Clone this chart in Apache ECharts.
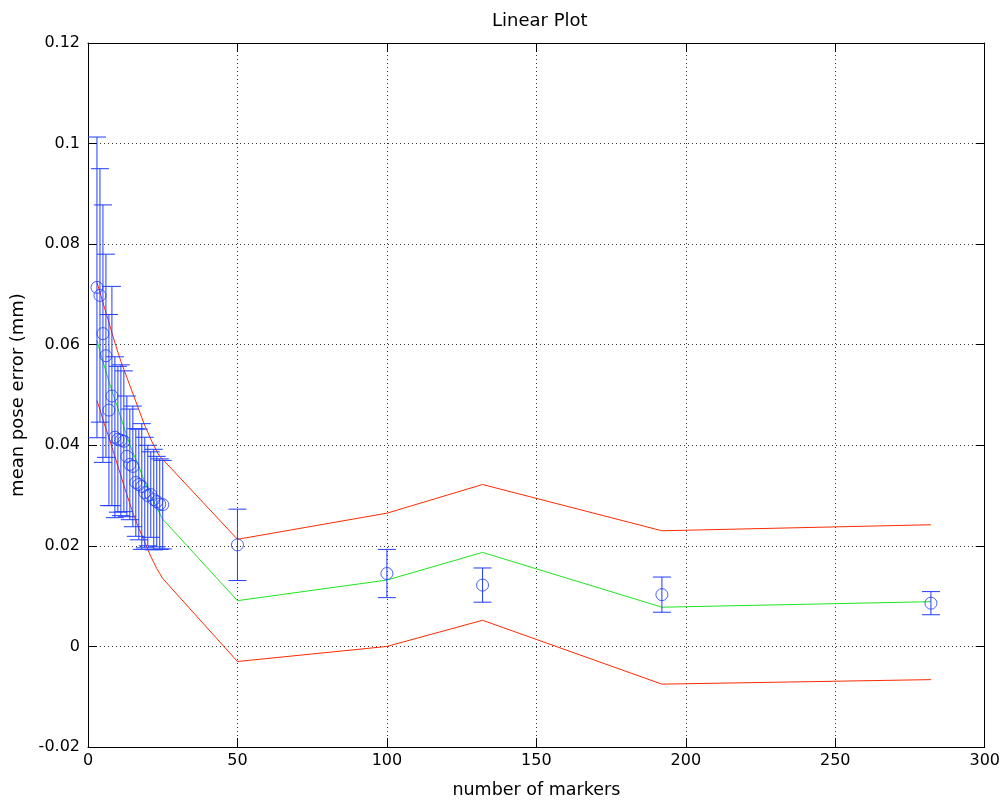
<!DOCTYPE html>
<html>
<head>
<meta charset="utf-8">
<script src="https://cdn.jsdelivr.net/npm/echarts@6/dist/echarts.min.js"></script>
<style>html,body{margin:0;padding:0;background:#fff}#c{width:1003px;height:806px}</style>
</head>
<body>
<div id="c"></div>
<script>
// number of markers
const markers = [3,4,5,6,7,8,9,10,11,12,13,14,15,16,17,18,19,20,21,22,23,24,25,50,100,132,192,282];
// mean pose error (mm)
const meanErr = [0.0714,0.0698,0.0622,0.0578,0.0470,0.0498,0.0416,0.0412,0.0410,0.0408,0.0378,0.0362,0.0358,0.0326,0.0322,0.0318,0.0306,0.0300,0.0302,0.0292,0.0288,0.0283,0.0282,0.0202,0.0145,0.0122,0.0103,0.0086];
// half length of error bars
const errHalf = [0.0299,0.0252,0.0256,0.0202,0.0190,0.0218,0.0160,0.0145,0.0150,0.0140,0.0120,0.0110,0.0120,0.0107,0.0110,0.0125,0.0110,0.0100,0.0085,0.0100,0.0090,0.0090,0.0088,0.0071,0.0048,0.0034,0.0035,0.0023];
// fitted curve (green) and bounds (red)
const fitMid = [0.0608,0.0587,0.0567,0.0547,0.0527,0.0509,0.0491,0.0473,0.0455,0.0437,0.0418,0.0402,0.0386,0.0372,0.0358,0.0342,0.0328,0.0314,0.0300,0.0288,0.0276,0.0264,0.0253,0.0091,0.0132,0.0187,0.0078,0.0089];
const fitUpper = [0.0724,0.0704,0.0684,0.0664,0.0644,0.0624,0.0604,0.0585,0.0567,0.0551,0.0535,0.0519,0.0503,0.0487,0.0471,0.0455,0.0439,0.0426,0.0412,0.0400,0.0388,0.0378,0.0372,0.0213,0.0265,0.0322,0.0230,0.0242];
const fitLower = [0.0489,0.0471,0.0451,0.0433,0.0416,0.0396,0.0378,0.0358,0.0340,0.0320,0.0302,0.0284,0.0266,0.0251,0.0235,0.0221,0.0207,0.0193,0.0179,0.0167,0.0155,0.0145,0.0135,-0.0030,0.0000,0.0052,-0.0075,-0.0066];
const xTicks = [0,50,100,150,200,250,300];
const yTicks = [-0.02,0,0.02,0.04,0.06,0.08,0.1,0.12];

const blue = '#1f3cff';
const font = 'DejaVu Sans, Liberation Sans, sans-serif';
const pair = (ys) => markers.map((x,i)=>[x, ys[i]]);
const errData = markers.map((x,i)=>[x, meanErr[i]-errHalf[i], meanErr[i]+errHalf[i]]);

const chart = echarts.init(document.getElementById('c'), null, {renderer:'canvas'});
const gridLine = {show:true, lineStyle:{color:'#333', type:[1,3], width:1}};
const axLine = {show:true, onZero:false, lineStyle:{color:'#000', width:1}};
const axTick = {show:true, inside:true, length:9, lineStyle:{color:'#000'}};
chart.setOption({
  animation:false,
  backgroundColor:'#fff',
  title:{text:'Linear Plot', left:487, top:7, textStyle:{fontFamily:font, fontSize:18, fontWeight:'normal', color:'#000'}},
  grid:{left:88, right:18, top:43, bottom:59},
  xAxis:[{
    type:'value', min:xTicks[0], max:xTicks[xTicks.length-1], interval:50,
    name:'number of markers', nameLocation:'middle', nameGap:34,
    nameTextStyle:{fontFamily:font, fontSize:17.5, color:'#000'},
    axisLine:axLine, axisTick:axTick,
    axisLabel:{fontFamily:font, fontSize:16, color:'#000', margin:6},
    splitLine:gridLine
  },{
    type:'value', position:'top', min:xTicks[0], max:xTicks[xTicks.length-1], interval:50,
    axisLine:axLine, axisTick:axTick,
    axisLabel:{show:false}, splitLine:{show:false}
  }],
  yAxis:[{
    type:'value', min:yTicks[0], max:yTicks[yTicks.length-1], interval:0.02,
    name:'mean pose error (mm)', nameLocation:'middle', nameGap:60, nameRotate:90,
    nameTextStyle:{fontFamily:font, fontSize:18, color:'#000'},
    axisLine:axLine, axisTick:axTick,
    axisLabel:{fontFamily:font, fontSize:16, color:'#000', margin:8,
      formatter:(v)=>String(Math.round(v*1000)/1000)},
    splitLine:gridLine
  },{
    type:'value', position:'right', min:yTicks[0], max:yTicks[yTicks.length-1], interval:0.02,
    axisLine:axLine, axisTick:axTick,
    axisLabel:{show:false}, splitLine:{show:false}
  }],
  series:[
    {type:'line', data:pair(fitUpper), symbol:'none', lineStyle:{color:'#ff2a00', width:1}, z:3},
    {type:'line', data:pair(fitLower), symbol:'none', lineStyle:{color:'#ff2a00', width:1}, z:3},
    {type:'line', data:pair(fitMid), symbol:'none', lineStyle:{color:'#1ee61e', width:1}, z:3},
    {type:'custom', data:errData, z:4,
      renderItem:(params, api)=>{
        const x = api.value(0);
        const lo = api.coord([x, api.value(1)]);
        const hi = api.coord([x, api.value(2)]);
        const hw = 9;
        const st = {stroke:blue, lineWidth:1};
        return {type:'group', children:[
          {type:'line', shape:{x1:lo[0], y1:lo[1], x2:hi[0], y2:hi[1]}, style:st},
          {type:'line', shape:{x1:lo[0]-hw, y1:lo[1], x2:lo[0]+hw, y2:lo[1]}, style:st},
          {type:'line', shape:{x1:hi[0]-hw, y1:hi[1], x2:hi[0]+hw, y2:hi[1]}, style:st}
        ]};
      }},
    {type:'scatter', data:pair(meanErr), symbol:'circle', symbolSize:12, z:5,
      itemStyle:{color:'transparent', borderColor:blue, borderWidth:1}}
  ]
});
</script>
</body>
</html>
